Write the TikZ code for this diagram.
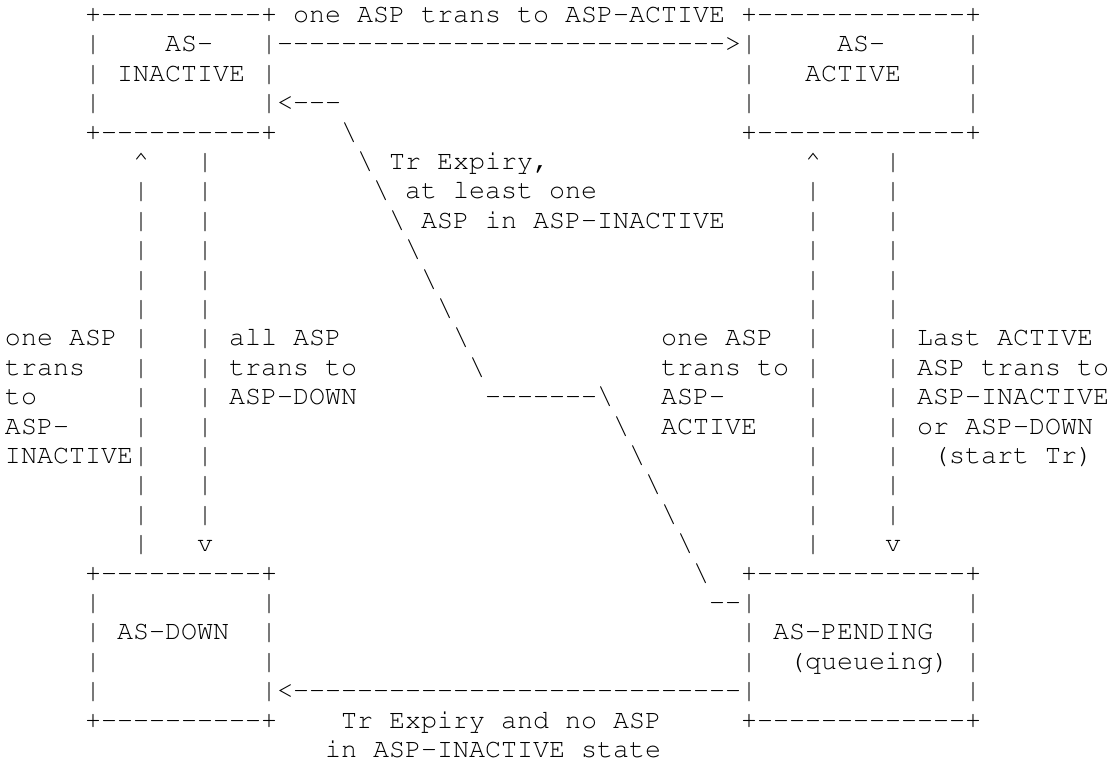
\documentclass[tikz,border=0pt]{standalone}
\usepackage[T1,TU]{fontenc}

% Courier-like monospace, one column = 16pt, one row = 29.4pt
\newcommand\asciifont{\fontencoding{T1}\fontfamily{pcr}\fontseries{m}\fontshape{n}\fontsize{26.67pt}{29.4pt}\selectfont}
\newcommand\rep[2]{\foreach\i in {1,...,#1}{#2}}

\tikzset{
    ascii/.style={inner sep=0pt, outer sep=0pt, anchor=base west, font=\asciifont},
}

% state box: name, column, row, inner width, inner rows
\newcommand\stbox[5]{%
    \node[ascii] (#1-n) at (#2,#3) {+\rep{#4}{-}+};
    \foreach \k in {1,...,#5} {
        \node[ascii] (#1-w\k) at (#2,#3+\k) {|};
        \node[ascii] (#1-e\k) at (#2+#4+1,#3+\k) {|};
    }
    \node[ascii] (#1-s) at (#2,#3+#5+1) {+\rep{#4}{-}+};
}

\begin{document}
\begin{tikzpicture}[x=16pt, y=-29.4pt]
            \useasboundingbox (-0.3125,-0.765) rectangle (69.4375,25.255);

            % states
            \stbox{inactive}{5}{0}{10}{3}
            \stbox{active}{46}{0}{13}{3}
            \stbox{down}{5}{19}{10}{4}
            \stbox{pending}{46}{19}{13}{4}
            \node[ascii] (inactive-a) at (10,1) {AS-};
            \node[ascii] (inactive-b) at (7,2) {INACTIVE};
            \node[ascii] (active-a) at (52,1) {AS-};
            \node[ascii] (active-b) at (50,2) {ACTIVE};
            \node[ascii] (down-a) at (7,21) {AS-DOWN};
            \node[ascii] (pending-a) at (48,21) {AS-PENDING};
            \node[ascii] (pending-b) at (49,22) {(queueing)};

            % inactive -> active
            \node[ascii] (toactive) at (17,1) {\rep{28}{-}>};
            \node[ascii] (toactive-txt) at (18,0) {one ASP trans to ASP-ACTIVE};

            % pending -> inactive (Tr expiry)
            \node[ascii] (tr-head) at (17,3) {<\rep{3}{-}};
            \foreach \r in {4,...,12}
                \node[ascii] (tr-a\r) at (17+\r,\r) {\textbackslash};
            \node[ascii] (tr-mid) at (30,13) {\rep{7}{-}\textbackslash};
            \foreach \r in {14,...,19}
                \node[ascii] (tr-b\r) at (24+\r,\r) {\textbackslash};
            \node[ascii] (tr-tail) at (44,20) {\rep{2}{-}};
            \foreach \t [count=\k from 5] in {{Tr Expiry,}, at least one, ASP in ASP-INACTIVE}
                \node[ascii] (tr-txt\k) at (19+\k,\k) {\t};

            % pending -> down
            \node[ascii] (todown) at (17,23) {<\rep{28}{-}};
            \node[ascii] (todown-a) at (21,24) {Tr Expiry and no ASP};
            \node[ascii] (todown-b) at (20,25) {in ASP-INACTIVE state};

            % down -> inactive, inactive -> down
            \node[ascii] (up-l) at (8,5) {\textasciicircum};
            \foreach \r in {6,...,18}
                \node[ascii] (up-l\r) at (8,\r) {|};
            \foreach \r in {5,...,17}
                \node[ascii] (dn-l\r) at (12,\r) {|};
            \node[ascii] (dn-l) at (12,18) {v};
            \foreach \t [count=\k from 11] in {one ASP, trans, to, ASP-, INACTIVE}
                \node[ascii] (up-l-txt\k) at (0,\k) {\t};
            \foreach \t [count=\k from 11] in {all ASP, trans to, ASP-DOWN}
                \node[ascii] (dn-l-txt\k) at (14,\k) {\t};

            % pending -> active, active -> pending
            \node[ascii] (up-r) at (50,5) {\textasciicircum};
            \foreach \r in {6,...,18}
                \node[ascii] (up-r\r) at (50,\r) {|};
            \foreach \r in {5,...,17}
                \node[ascii] (dn-r\r) at (55,\r) {|};
            \node[ascii] (dn-r) at (55,18) {v};
            \foreach \t [count=\k from 11] in {one ASP, trans to, ASP-, ACTIVE}
                \node[ascii] (up-r-txt\k) at (41,\k) {\t};
            \foreach \t [count=\k from 11] in {Last ACTIVE, ASP trans to, ASP-INACTIVE, or ASP-DOWN}
                \node[ascii] (dn-r-txt\k) at (57,\k) {\t};
            \node[ascii] (dn-r-txt15) at (58,15) {(start Tr)};
        \end{tikzpicture}
\end{document}
